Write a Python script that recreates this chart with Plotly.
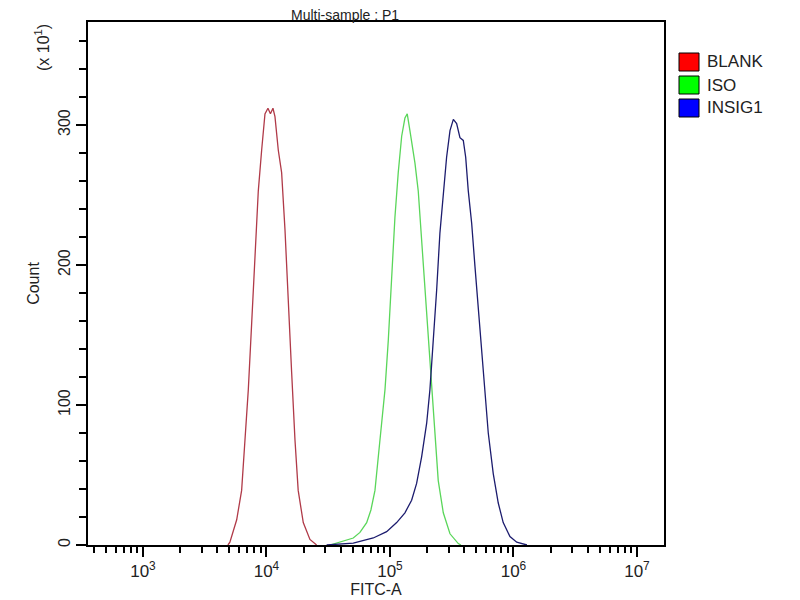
import plotly.graph_objects as go

blank_fitc = [4875, 5058, 5741, 6295, 6699, 7129, 7586, 8072, 8590, 9141, 9727, 10280, 10770,
              11290, 11720, 12470, 13270, 14130, 15030, 16000, 17020, 18070, 19860, 22490, 25470]
blank_count = [0, 2, 18, 39, 75, 111, 158, 206, 253, 282, 308, 312, 308,
               312, 306, 282, 266, 225, 170, 123, 75, 39, 16, 4, 0]

iso_fitc = [32660, 50470, 57150, 64770, 70120, 75630, 82990, 91150, 96900, 103200, 109700,
            116700, 124400, 132200, 138000, 145100, 159300, 169400, 180500, 192000, 204200,
            217600, 231300, 246000, 270300, 306300, 357600, 375800]
iso_count = [0, 5, 9, 16, 25, 39, 75, 111, 146, 194, 234,
             266, 292, 305, 308, 296, 273, 253, 218, 182, 146,
             111, 75, 46, 23, 8, 1, 0]

insig1_fitc = [30690, 50470, 73280, 94000, 113300, 132200, 149800, 164400, 180500, 198300,
               210700, 224500, 238800, 253900, 270300, 287500, 306300, 326000, 346700, 368800,
               392500, 410400, 430700, 458700, 487900, 518800, 552800, 587800, 625300, 686000,
               753300, 826200, 937000, 1063000, 1239000, 1286000]
insig1_count = [0, 1.4, 5, 9.5, 16, 23, 32, 44, 63, 87,
                111, 146, 182, 223, 253, 277, 296, 304, 301, 291,
                289, 277, 253, 230, 199, 170, 139, 111, 80, 51,
                30, 16, 6, 2, 0.5, 0]

names = ['BLANK', 'ISO', 'INSIG1']
line_colors = ['#b03a48', '#5ad65a', '#1c1c6e']
legend_colors = ['#ff0000', '#00ff00', '#0000ff']

x_tickvals = [1e3, 1e4, 1e5, 1e6, 1e7]
x_ticktext = ['10<sup>3</sup>', '10<sup>4</sup>', '10<sup>5</sup>', '10<sup>6</sup>', '10<sup>7</sup>']

font_name = 'Liberation Sans, Arial, sans-serif'

# area de trazado en pixeles de la pagina (la pagina tiene 8 px de margen)
px_l, px_r, px_t, px_b = 88, 664, 22, 545
pw, ph = px_r - px_l, px_b - px_t

def px(x):
    return (x - px_l) / pw

def py(y):
    return (px_b - y) / ph

fig = go.Figure()
series = [(blank_fitc, blank_count), (iso_fitc, iso_count), (insig1_fitc, insig1_count)]
for (xs, ys), n, c in zip(series, names, line_colors):
    fig.add_trace(go.Scatter(x=xs, y=ys, mode='lines', name=n, showlegend=False,
                             line=dict(color=c, width=1.3)))

## Leyenda dibujada a mano (cuadrados con borde negro)
for i, (n, c) in enumerate(zip(names, legend_colors)):
    y0 = 53 + i * 23
    fig.add_shape(type='rect', xref='paper', yref='paper',
                  x0=px(679), x1=px(699), y0=py(y0 + 18), y1=py(y0),
                  fillcolor=c, line=dict(color='black', width=1))
    fig.add_annotation(text=n, xref='paper', yref='paper', x=px(705), y=py(y0 + 9),
                       xanchor='left', yanchor='middle', showarrow=False,
                       font=dict(size=17, color='#222'))

fig.add_annotation(text='(x 10<sup>1</sup>)', xref='paper', yref='paper', x=px(42), y=py(48),
                   textangle=-90, showarrow=False, xanchor='center', yanchor='middle',
                   font=dict(size=16, color='#222'))

fig.add_annotation(text='Multi-sample : P1', xref='paper', yref='paper', x=px(345), y=py(6),
                   showarrow=False, xanchor='center', yanchor='top', borderpad=0,
                   font=dict(size=14, color='#222'))

fig.update_layout(
    width=792, height=592,
    paper_bgcolor='white', plot_bgcolor='white',
    margin=dict(l=px_l - 8, r=800 - px_r, t=px_t - 8, b=600 - px_b),
    font=dict(family=font_name, size=15, color='#222'),
    xaxis=dict(type='log', range=[2.555, 7.219], showline=True, linecolor='black', linewidth=1.5,
               mirror=True, ticks='outside', ticklen=10, tickwidth=1.5, tickcolor='black',
               tickvals=x_tickvals, ticktext=x_ticktext, showgrid=False, zeroline=False,
               minor=dict(ticks='outside', ticklen=6, tickwidth=1.5, tickcolor='black',
                          dtick='D1', showgrid=False),
               automargin=False,
               title=dict(text='FITC-A', standoff=2, font=dict(size=16)), tickfont=dict(size=17)),
    yaxis=dict(range=[0, 373.6], showline=True, linecolor='black', linewidth=1.5, mirror=True,
               ticks='outside', ticklen=10, tickwidth=1.5, tickcolor='black',
               tickvals=[0, 100, 200, 300], tickangle=-90, showgrid=False, zeroline=False,
               minor=dict(ticks='outside', ticklen=7, tickwidth=1.5, tickcolor='black',
                          dtick=20, showgrid=False),
               automargin=False,
               title=dict(text='Count', standoff=12, font=dict(size=16)), tickfont=dict(size=16)),
)

fig.write_html('out.html')
